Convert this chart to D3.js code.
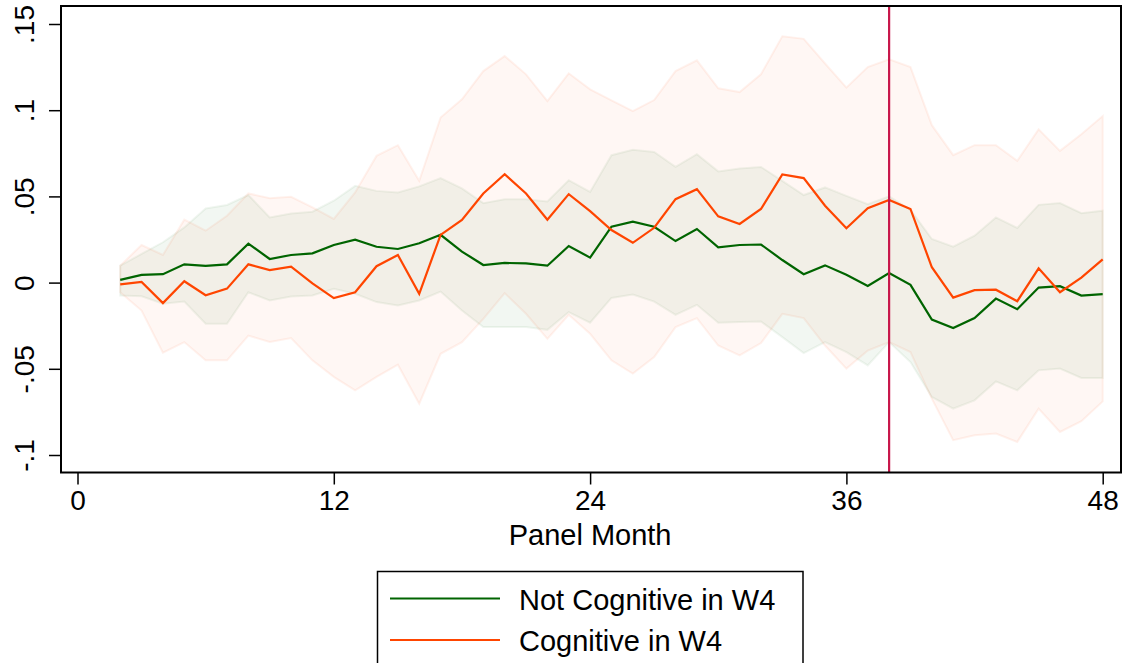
<!DOCTYPE html>
<html>
<head>
<meta charset="utf-8">
<script src="https://cdn.jsdelivr.net/npm/d3@7"></script>
<style>
  html, body { margin: 0; padding: 0; background: #fff; }
  svg { display: block; font-family: Arial, "Liberation Sans", sans-serif; }
</style>
</head>
<body>
<svg id="chart" width="1125" height="663"></svg>
<script>
// ---- Data ----
const months = [2,3,4,5,6,7,8,9,10,11,12,13,14,15,16,17,18,19,20,21,22,23,24,25,26,27,28,29,30,31,32,33,34,35,36,37,38,39,40,41,42,43,44,45,46,47,48];

const notCogEst = [0.0016,0.0045,0.0049,0.0106,0.0097,0.0106,0.0226,0.0137,0.016,0.017,0.0218,0.0249,0.0208,0.0195,0.0228,0.0277,0.018,0.0102,0.0114,0.0112,0.0098,0.0212,0.0145,0.0324,0.0353,0.0324,0.0241,0.0311,0.0205,0.0218,0.0221,0.0131,0.0049,0.01,0.0046,-0.0019,0.0056,-0.0013,-0.0214,-0.0264,-0.0206,-0.0093,-0.0154,-0.0029,-0.0021,-0.0075,-0.0067];
const notCogUpper = [0.0098,0.0166,0.0234,0.032,0.043,0.045,0.0508,0.0378,0.0401,0.0411,0.0475,0.0561,0.0532,0.0523,0.0558,0.0606,0.0546,0.0461,0.0484,0.0483,0.0471,0.0594,0.0526,0.0739,0.077,0.0758,0.0671,0.0745,0.0645,0.0662,0.0671,0.059,0.0508,0.0552,0.0503,0.0455,0.05,0.0422,0.0253,0.0208,0.0272,0.0378,0.0317,0.0451,0.0461,0.0403,0.0417];
const notCogLower = [-0.0075,-0.0079,-0.0123,-0.011,-0.0239,-0.0239,-0.0056,-0.0104,-0.0081,-0.0075,-0.0036,-0.0065,-0.0113,-0.0133,-0.0104,-0.0052,-0.0162,-0.0258,-0.0258,-0.0258,-0.0274,-0.0171,-0.0233,-0.0089,-0.0069,-0.011,-0.0187,-0.0129,-0.0233,-0.0229,-0.0226,-0.0316,-0.0409,-0.0345,-0.0403,-0.048,-0.0345,-0.0461,-0.0663,-0.0731,-0.0683,-0.0573,-0.0625,-0.0509,-0.0499,-0.0553,-0.0553];

const cogEst = [-0.001,0.0004,-0.0119,0.0008,-0.0073,-0.0035,0.0106,0.0073,0.0093,-0.0004,-0.009,-0.0056,0.0095,0.016,-0.0065,0.0277,0.0363,0.0517,0.0629,0.0517,0.0365,0.0513,0.0415,0.0305,0.0231,0.0318,0.0484,0.0542,0.0384,0.034,0.0427,0.0627,0.0606,0.0446,0.0315,0.0432,0.0479,0.0427,0.0089,-0.0087,-0.0044,-0.0041,-0.0108,0.0083,-0.0056,0.0029,0.0135];
const cogUpper = [0.0098,0.0218,0.016,0.0365,0.0301,0.0388,0.0517,0.049,0.0498,0.0436,0.0369,0.0523,0.0735,0.0797,0.059,0.0957,0.1063,0.1227,0.1314,0.1208,0.1053,0.1214,0.1121,0.1057,0.0995,0.1059,0.1227,0.1289,0.1127,0.1105,0.1208,0.1429,0.1414,0.1271,0.1131,0.125,0.1295,0.125,0.0913,0.0739,0.0797,0.0797,0.0706,0.0889,0.0764,0.0861,0.0966];
const cogLower = [-0.0056,-0.0162,-0.0407,-0.0345,-0.0451,-0.0451,-0.0307,-0.0345,-0.0322,-0.0451,-0.0547,-0.0625,-0.0547,-0.0476,-0.0702,-0.0413,-0.0345,-0.021,-0.0061,-0.0181,-0.0326,-0.0187,-0.0297,-0.0451,-0.0528,-0.0432,-0.0258,-0.0206,-0.0365,-0.0422,-0.0351,-0.0181,-0.0206,-0.0365,-0.0499,-0.0394,-0.0345,-0.0403,-0.0673,-0.0914,-0.0885,-0.0876,-0.0924,-0.0731,-0.0866,-0.0804,-0.0689];

const xTicks = [0, 12, 24, 36, 48];
const yTicks = [-0.1, -0.05, 0, 0.05, 0.1, 0.15];
const yTickLabels = ["-.1", "-.05", "0", ".05", ".1", ".15"];
const eventMonth = [38];
const xTitle = "Panel Month";
const seriesNames = ["Not Cognitive in W4", "Cognitive in W4"];
const seriesColors = ["#006400", "#ff4500"];

// ---- Layout ----
const svg = d3.select("#chart");
const frame = {left: 61, top: 6, right: 1121, bottom: 472.5};
const x = d3.scaleLinear().domain([0, 48]).range([77.5, 1102.7]);
const y = d3.scaleLinear().domain([-0.1, 0.15]).range([455, 24]);
const FS = 28;

const rows = months.map((m, i) => ({
  m,
  ge: notCogEst[i], gu: notCogUpper[i], gl: notCogLower[i],
  oe: cogEst[i], ou: cogUpper[i], ol: cogLower[i]
}));

// bands
const bandG = d3.area().x(d => x(d.m)).y0(d => y(d.gl)).y1(d => y(d.gu));
const bandO = d3.area().x(d => x(d.m)).y0(d => y(d.ol)).y1(d => y(d.ou));

svg.append("path").datum(rows).attr("d", bandG)
  .attr("fill", seriesColors[0]).attr("fill-opacity", 0.05)
  .attr("stroke", seriesColors[0]).attr("stroke-opacity", 0.06).attr("stroke-width", 2);
svg.append("path").datum(rows).attr("d", bandO)
  .attr("fill", seriesColors[1]).attr("fill-opacity", 0.045)
  .attr("stroke", seriesColors[1]).attr("stroke-opacity", 0.07).attr("stroke-width", 2);

// lines
const lineG = d3.line().x(d => x(d.m)).y(d => y(d.ge));
const lineO = d3.line().x(d => x(d.m)).y(d => y(d.oe));
svg.append("path").datum(rows).attr("d", lineG)
  .attr("fill", "none").attr("stroke", seriesColors[0]).attr("stroke-width", 2.2).attr("stroke-linejoin", "miter");
svg.append("path").datum(rows).attr("d", lineO)
  .attr("fill", "none").attr("stroke", seriesColors[1]).attr("stroke-width", 2.2).attr("stroke-linejoin", "miter");

// vertical event line
svg.selectAll("line.event").data(eventMonth).enter().append("line")
  .attr("class", "event")
  .attr("x1", d => x(d)).attr("x2", d => x(d))
  .attr("y1", frame.top).attr("y2", frame.bottom)
  .attr("stroke", "#c8164a").attr("stroke-width", 2.2);

// frame
svg.append("rect")
  .attr("x", frame.left).attr("y", frame.top)
  .attr("width", frame.right - frame.left).attr("height", frame.bottom - frame.top)
  .attr("fill", "none").attr("stroke", "#000").attr("stroke-width", 2);

// x axis
const xAxis = svg.append("g").attr("transform", `translate(0,${frame.bottom})`)
  .call(d3.axisBottom(x).tickValues(xTicks).tickSize(12).tickPadding(6).tickFormat(d3.format("d")));
xAxis.select(".domain").remove();
xAxis.selectAll(".tick line").attr("stroke", "#000").attr("stroke-width", 1.5);
xAxis.selectAll(".tick text").attr("font-size", FS).attr("fill", "#000")
  .attr("font-family", 'Arial, "Liberation Sans", sans-serif');

// y axis
const yAxis = svg.append("g").attr("transform", `translate(${frame.left},0)`)
  .call(d3.axisLeft(y).tickValues(yTicks).tickSize(12).tickFormat((d, i) => yTickLabels[i]));
yAxis.select(".domain").remove();
yAxis.selectAll(".tick line").attr("stroke", "#000").attr("stroke-width", 1.5);
yAxis.selectAll(".tick text")
  .attr("font-size", FS).attr("fill", "#000")
  .attr("font-family", 'Arial, "Liberation Sans", sans-serif')
  .attr("x", 0).attr("y", 0).attr("dy", 0)
  .attr("text-anchor", "middle")
  .attr("transform", "translate(-27,0) rotate(-90)");

// x title
svg.append("text")
  .attr("x", x(24)).attr("y", 545)
  .attr("text-anchor", "middle")
  .attr("font-size", 29).attr("fill", "#000")
  .text(xTitle);

// legend
const legend = svg.append("g");
legend.append("rect")
  .attr("x", 377.5).attr("y", 571.5).attr("width", 425.5).attr("height", 120)
  .attr("fill", "#fff").attr("stroke", "#000").attr("stroke-width", 1.5);
const legY = [598.5, 640];
const legBase = [609.5, 651];
seriesNames.forEach((name, i) => {
  legend.append("line")
    .attr("x1", 390).attr("x2", 500).attr("y1", legY[i]).attr("y2", legY[i])
    .attr("stroke", seriesColors[i]).attr("stroke-width", 2.2);
  legend.append("text")
    .attr("x", 519).attr("y", legBase[i])
    .attr("font-size", 29).attr("fill", "#000")
    .text(name);
});
</script>
</body>
</html>
